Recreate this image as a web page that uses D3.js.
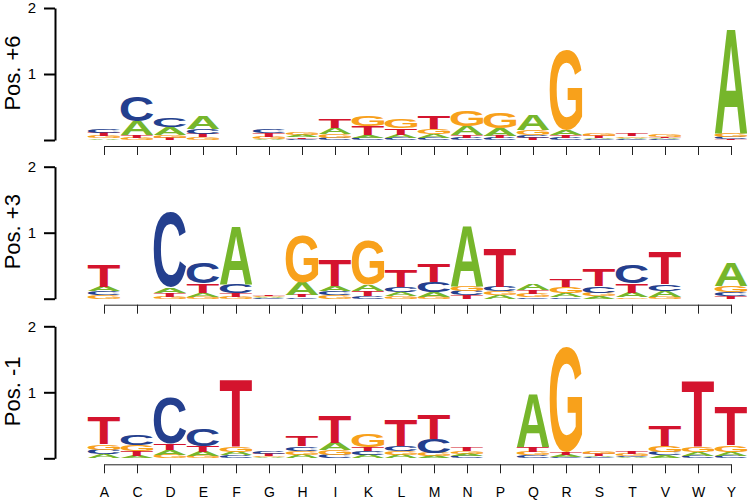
<!DOCTYPE html>
<html>
<head>
<meta charset="utf-8">
<script src="https://cdn.jsdelivr.net/npm/d3@7"></script>
<style>
  body { margin: 0; background: #fff; }
</style>
</head>
<body>
<div id="app"></div>
<script>
// residue positions on the x axis
const positions = ["A","C","D","E","F","G","H","I","K","L","M","N","P","Q","R","S","T","V","W","Y"];
const panelTitles = ["Pos. +6", "Pos. +3", "Pos. -1"];
const yTicks = [0, 1, 2];

// letter heights (bits) per position, panel "Pos. +6"
const pos6A = [.025,.22,.12,.20,.005,.02,.03,.09,.04,.05,.06,.14,.12,.23,.08,.02,.02,.015,.005,1.59];
const pos6C = [.06,.38,.13,.08,.005,.06,.02,.03,.03,.03,.03,.03,.03,.045,.03,.015,.01,.01,.005,.03];
const pos6G = [.03,.03,.04,.04,.005,.03,.04,.06,.15,.14,.07,.24,.24,.07,1.21,.035,.025,.03,.005,.05];
const pos6T = [.05,.04,.035,.05,.005,.05,.025,.13,.14,.10,.19,.04,.035,.035,.04,.03,.03,.02,.005,.02];

// panel "Pos. +3"
const pos3A = [.07,.005,.08,.06,.89,.015,.19,.07,.10,.06,.07,.92,.05,.10,.06,.04,.07,.09,.005,.35];
const pos3C = [.06,.005,1.13,.32,.13,.01,.02,.065,.04,.07,.15,.07,.07,.02,.02,.10,.28,.10,.005,.05];
const pos3G = [.05,.005,.03,.03,.03,.02,.71,.055,.68,.04,.03,.075,.06,.05,.09,.05,.02,.03,.005,.10];
const pos3T = [.33,.005,.06,.14,.05,.025,.03,.39,.08,.26,.27,.05,.58,.06,.12,.26,.14,.50,.005,.045];

// panel "Pos. -1"
const pos1A = [.06,.03,.08,.07,.05,.015,.055,.11,.05,.05,.03,.035,.005,.81,.03,.02,.015,.045,.06,.06];
const pos1C = [.07,.15,.70,.25,.045,.035,.065,.05,.055,.08,.22,.03,.005,.045,.025,.015,.02,.05,.04,.04];
const pos1G = [.08,.09,.05,.03,.08,.02,.06,.07,.20,.06,.05,.04,.005,.05,1.60,.04,.03,.09,.07,.10];
const pos1T = [.41,.08,.09,.09,1.03,.03,.16,.41,.065,.39,.37,.06,.005,.08,.04,.03,.035,.31,1.01,.59];

const panels = [
  {A: pos6A, C: pos6C, G: pos6G, T: pos6T},
  {A: pos3A, C: pos3C, G: pos3G, T: pos3T},
  {A: pos1A, C: pos1C, G: pos1G, T: pos1T}
];

const colors = {A: "#76b62b", C: "#243f8e", G: "#f8a11b", T: "#d4142e"};
const fontFamily = "'Liberation Sans', Arial, Helvetica, sans-serif";
const letterFont = "bold 100px " + fontFamily;

const width = 750, height = 501;
const zeros = [140, 298.7, 458.3];
const unit = 66;

const svg = d3.select("#app").append("svg")
  .attr("width", width).attr("height", height);

const x = d3.scalePoint().domain(positions).range([104, 731]);
const colW = 32.6;

// measure the ink box of each glyph so it can be stretched to fill its cell
const ctx = document.createElement("canvas").getContext("2d");
ctx.font = letterFont;
const ink = {};
["A","C","G","T"].forEach(l => {
  const m = ctx.measureText(l);
  ink[l] = {
    left: m.actualBoundingBoxLeft, right: m.actualBoundingBoxRight,
    asc: m.actualBoundingBoxAscent, desc: m.actualBoundingBoxDescent
  };
});

panels.forEach((p, pi) => {
  const y = d3.scaleLinear().domain([0, 2]).range([zeros[pi], zeros[pi] - 2 * unit]);
  const g = svg.append("g");

  // stacks, smallest letter at the bottom
  positions.forEach((pos, i) => {
    const stack = ["A","C","G","T"].map(l => ({l, h: p[l][i]}))
      .sort((a, b) => a.h - b.h);
    let base = 0;
    stack.forEach(s => {
      const y0 = y(base), y1 = y(base + s.h);
      base += s.h;
      const hpx = y0 - y1;
      const b = ink[s.l];
      const sx = colW / (b.left + b.right);
      const sy = hpx / (b.asc + b.desc);
      g.append("text")
        .attr("x", 0).attr("y", 0)
        .attr("transform", `translate(${x(pos) - colW / 2},${y1}) scale(${sx},${sy}) translate(${b.left},${b.asc})`)
        .style("font", letterFont)
        .attr("fill", colors[s.l])
        .text(s.l);
    });
  });

  // y axis
  const ya = g.append("g")
    .attr("transform", "translate(55,0)")
    .call(d3.axisLeft(y).tickValues(yTicks).tickSize(11).tickSizeOuter(0).tickPadding(8)
      .tickFormat(d => d === 0 ? "" : d));
  ya.select(".domain").attr("stroke", "#000").attr("stroke-width", 2);
  ya.selectAll(".tick line").attr("stroke", "#000").attr("stroke-width", 2);
  ya.selectAll("text").style("font", "15px " + fontFamily).attr("fill", "#000");
  ya.selectAll("text").filter(function() { return this.textContent === ""; }).remove();

  // x axis
  const xa = g.append("g")
    .attr("transform", `translate(0,${zeros[pi] + 6})`)
    .call(d3.axisBottom(x).tickSize(9).tickSizeOuter(0).tickPadding(14)
      .tickFormat(d => pi === 2 ? d : ""));
  xa.select(".domain").attr("stroke", "#222");
  xa.selectAll(".tick line").attr("stroke", "#222");
  xa.selectAll("text").style("font", "14px " + fontFamily).attr("fill", "#000");
  xa.selectAll("text").filter(function() { return this.textContent === ""; }).remove();

  // panel title
  g.append("text")
    .attr("transform", `translate(19.5,${zeros[pi] - unit - 1}) rotate(-90)`)
    .attr("text-anchor", "middle")
    .style("font", "22px " + fontFamily)
    .attr("fill", "#000")
    .text(panelTitles[pi]);
});
</script>
</body>
</html>
